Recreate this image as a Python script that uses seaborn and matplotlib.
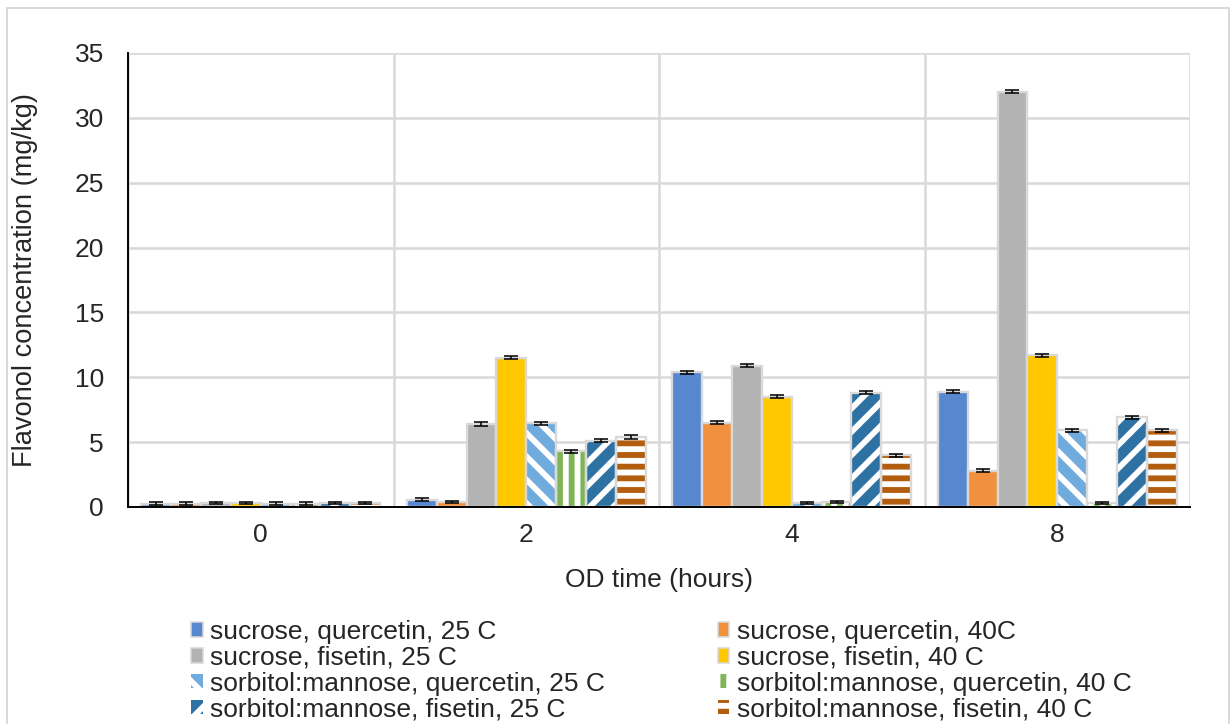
import numpy as np
import pandas as pd
import matplotlib
matplotlib.use("Agg")
import matplotlib.pyplot as plt
from matplotlib.patches import Patch, Rectangle
from matplotlib.ticker import MultipleLocator, FixedLocator
import seaborn as sns

# ── Data ─────────────────────────────────────────────────────────────────────
TIMES = ["0", "2", "4", "8"]
SERIES = [
    "sucrose, quercetin, 25 C",
    "sucrose, quercetin, 40C",
    "sucrose, fisetin, 25 C",
    "sucrose, fisetin, 40 C",
    "sorbitol:mannose, quercetin, 25 C",
    "sorbitol:mannose, quercetin, 40 C",
    "sorbitol:mannose, fisetin, 25 C",
    "sorbitol:mannose, fisetin, 40 C",
]
suc_q25 = [0.25, 0.55, 10.4, 8.9]
suc_q40 = [0.25, 0.4, 6.5, 2.8]
suc_f25 = [0.3, 6.4, 10.9, 32.0]
suc_f40 = [0.3, 11.5, 8.5, 11.7]
sm_q25 = [0.25, 6.45, 0.3, 5.9]
sm_q40 = [0.25, 4.3, 0.4, 0.3]
sm_f25 = [0.3, 5.1, 8.8, 6.9]
sm_f40 = [0.3, 5.4, 4.0, 5.9]
VALUES = [suc_q25, suc_q40, suc_f25, suc_f40, sm_q25, sm_q40, sm_f25, sm_f40]

err_suc_q25 = [0.1, 0.12, 0.12, 0.12]
err_suc_q40 = [0.1, 0.1, 0.12, 0.12]
err_suc_f25 = [0.1, 0.12, 0.12, 0.12]
err_suc_f40 = [0.1, 0.12, 0.12, 0.12]
err_sm_q25 = [0.1, 0.12, 0.1, 0.12]
err_sm_q40 = [0.1, 0.12, 0.1, 0.1]
err_sm_f25 = [0.1, 0.12, 0.12, 0.12]
err_sm_f40 = [0.1, 0.12, 0.12, 0.12]
ERRORS = [err_suc_q25, err_suc_q40, err_suc_f25, err_suc_f40,
          err_sm_q25, err_sm_q40, err_sm_f25, err_sm_f40]

COLORS = ["#5687CF", "#F1913F", "#B3B3B3", "#FFC800",
          "#6FABDC", "#7EB556", "#2E71A3", "#B35D0E"]
HATCHES = [None, None, None, None, "\\\\", "||", "//", "--"]

df = pd.DataFrame({
    "time": np.tile(TIMES, len(SERIES)),
    "series": np.repeat(SERIES, len(TIMES)),
    "value": np.concatenate(VALUES),
})

# ── Style ────────────────────────────────────────────────────────────────────
sns.set_style("white")
plt.rcParams["font.family"] = ["Liberation Sans", "DejaVu Sans"]
plt.rcParams["hatch.linewidth"] = 3.0
FS = 13.6
GRID = "#D9D9D9"

fig = plt.figure(figsize=(1231 / 140, 724 / 140), dpi=140)
ax = fig.add_axes([128 / 1231, 1 - 507 / 724, (1190 - 128) / 1231, (507 - 53) / 724])

sns.barplot(data=df, x="time", y="value", hue="series", order=TIMES,
            hue_order=SERIES, palette=COLORS, saturation=1, width=0.9,
            errorbar=None, edgecolor=GRID, linewidth=1.2, legend=False, ax=ax,
            zorder=3)

# hatching + error bars
for cont, hatch, vals, errs in zip(ax.containers, HATCHES, VALUES, ERRORS):
    xs = []
    for bar in cont.patches:
        xs.append(bar.get_x() + bar.get_width() / 2)
        if hatch:
            bar.set_hatch(hatch)
            bar.set_edgecolor("white")
            bar.set_linewidth(0)
            ax.add_patch(Rectangle(bar.get_xy(), bar.get_width(), bar.get_height(),
                                   fill=False, edgecolor=GRID, linewidth=1.2, zorder=3))
    ax.errorbar(xs, vals, yerr=errs, fmt="none", ecolor="black",
                elinewidth=0.8, capsize=3.8, capthick=0.8, zorder=4)

# axes
ax.set_ylim(0, 35)
ax.set_xlim(-0.5, 3.5)
ax.yaxis.set_major_locator(MultipleLocator(5))
ax.yaxis.set_minor_locator(MultipleLocator(1))
ax.xaxis.set_minor_locator(FixedLocator(np.arange(-0.5, 4, 1)))
ax.grid(axis="y", which="major", color=GRID, linewidth=1.3, zorder=0)
ax.grid(axis="x", which="minor", color=GRID, linewidth=1.3, zorder=0)
ax.set_axisbelow(True)
for s in ["top", "right"]:
    ax.spines[s].set_visible(False)
for s in ["left", "bottom"]:
    ax.spines[s].set_color("black")
    ax.spines[s].set_linewidth(1.0)
    ax.spines[s].set_zorder(5)
ax.tick_params(axis="x", which="major", length=0, labelsize=FS, pad=8)
ax.tick_params(axis="x", which="minor", length=5.8, direction="inout", width=1.0, color="black")
ax.tick_params(axis="y", which="both", length=5.8, direction="inout", width=1.0,
               color="black", labelsize=FS, pad=9.5)
ax.set_xlabel("OD time (hours)", fontsize=FS, labelpad=11)
ax.set_ylabel("Flavonol concentration (mg/kg)", fontsize=14, labelpad=19)

# legend
handles = [Patch(facecolor=c, edgecolor="white" if h else GRID, hatch=h, linewidth=0 if h else 0.8)
           for c, h in zip(COLORS, HATCHES)]
order = [0, 2, 4, 6, 1, 3, 5, 7]
fig.legend([handles[i] for i in order], [SERIES[i] for i in order],
           loc="upper left", bbox_to_anchor=(191 / 1231, 1 - 620 / 724), ncol=2,
           frameon=False, fontsize=FS, handlelength=0.45, handleheight=0.45,
           handletextpad=0.28, labelspacing=0.07, columnspacing=4.25,
           borderaxespad=0, borderpad=0)

# outer chart border
fig.patches.append(Rectangle((7 / 1231, -0.02), 1 - 9 / 1231, 1.02 - 8 / 724,
                             transform=fig.transFigure, fill=False,
                             edgecolor=GRID, linewidth=1.0))

fig.savefig("out.png", dpi=140)
